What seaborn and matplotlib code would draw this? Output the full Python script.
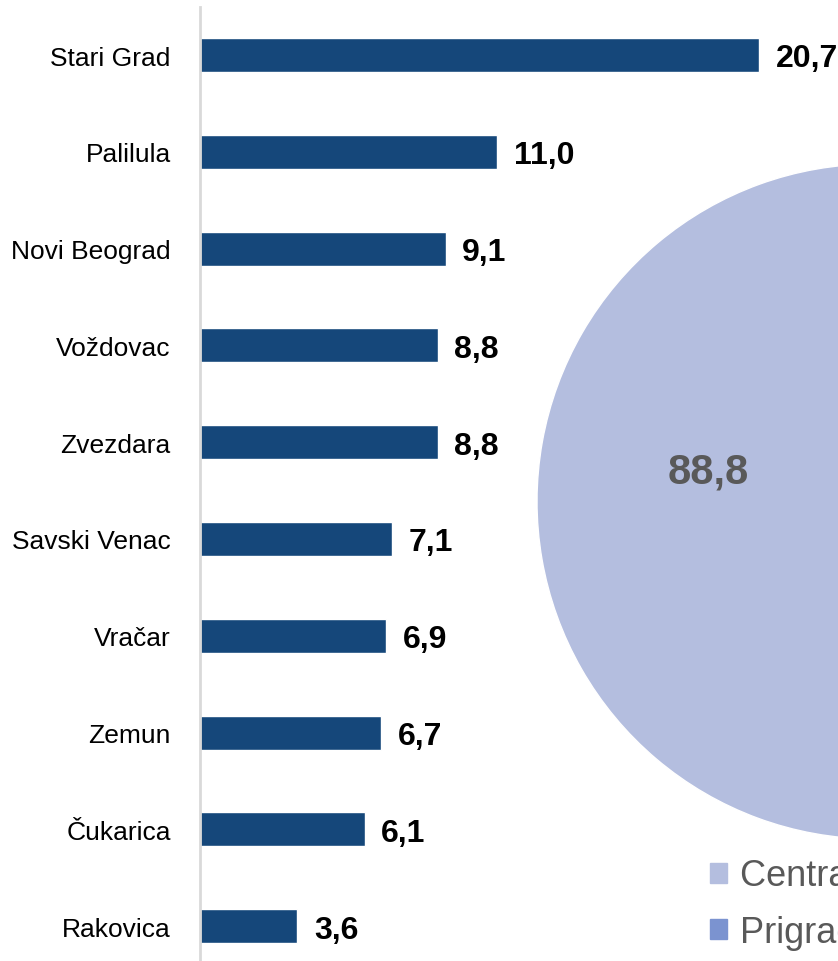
import matplotlib
matplotlib.use("Agg")
import matplotlib.pyplot as plt
import matplotlib.patches as mpatches
import pandas as pd
import seaborn as sns

districts = ["Stari Grad", "Palilula", "Novi Beograd", "Voždovac", "Zvezdara",
             "Savski Venac", "Vračar", "Zemun", "Čukarica", "Rakovica"]
shares = [20.7, 11.0, 9.1, 8.8, 8.8, 7.1, 6.9, 6.7, 6.1, 3.6]

pie_labels = ["Centralne opštine", "Prigradske opštine"]
pie_values = [88.8, 11.2]

BAR_COLOR = "#15477A"
PIE_COLORS = ["#B4BEDF", "#7B93D0"]
GREY_TEXT = "#595959"

sns.set_theme(style="white")
plt.rcParams["font.family"] = ["Liberation Sans Narrow", "Liberation Sans", "DejaVu Sans"]

W, H = 838, 962
fig = plt.figure(figsize=(W / 100, H / 100), dpi=100)

# bar chart
ax = fig.add_axes([200 / W, 0, 638 / W, 954 / H])
data = pd.DataFrame({"district": districts, "share": shares})
sns.barplot(data=data, x="share", y="district", orient="h", color=BAR_COLOR,
            width=0.35, saturation=1, ax=ax)
ax.set_xlim(0, 638 / 27.0)
ax.set_ylim(9.36, -0.496)
ax.set_xlabel("")
ax.set_ylabel("")
ax.set_xticks([])
ax.tick_params(axis="y", length=0, pad=21, labelsize=19, labelcolor="black")
for side in ["top", "right", "bottom"]:
    ax.spines[side].set_visible(False)
ax.spines["left"].set_color("#D9D9D9")
ax.spines["left"].set_linewidth(2)
labels = ax.bar_label(ax.containers[0],
                      labels=[f"{v:.1f}".replace(".", ",") for v in shares],
                      padding=12, fontsize=23, fontweight="bold", color="black")
for t in labels:
    t.xyann = (12, -2.5)

# pie chart, partly off the right edge
r = 337.5
cx, cy = 874.5, 962 - 502.5
pax = fig.add_axes([(cx - r) / W, (cy - r) / H, 2 * r / W, 2 * r / H])
wedges, _, autotexts = pax.pie(pie_values, colors=PIE_COLORS, startangle=10,
                               counterclock=True, autopct=lambda p: "",
                               pctdistance=0.5)
autotexts[0].set_text(f"{pie_values[0]:.1f}".replace(".", ","))
autotexts[0].set_fontsize(30)
autotexts[0].set_fontweight("bold")
autotexts[0].set_color(GREY_TEXT)
pax.set_xlim(-1, 1)
pax.set_ylim(-1, 1)
pax.set_aspect("equal")
pax.axis("off")

# legend is cut by the right edge, as in the source
handles = [mpatches.Patch(color=c) for c in PIE_COLORS]
fig.legend(handles, pie_labels, loc="upper left",
           bbox_to_anchor=(696 / W, 1 - 845 / H), frameon=False, fontsize=26,
           labelcolor=GREY_TEXT, handlelength=0.47, handleheight=0.47,
           handletextpad=0.36, labelspacing=0.6, borderaxespad=0)

fig.savefig("out.png", dpi=100)
